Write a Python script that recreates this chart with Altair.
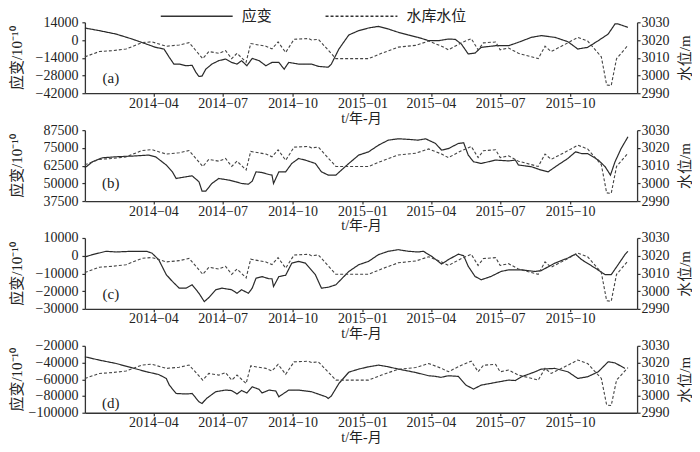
import altair as alt
import pandas as pd

START_DATE = "2014-01-01"
SERIES = ["应变", "水库水位"]
PANEL_LABELS = ["(a)", "(b)", "(c)", "(d)"]
X_TICK_MONTHS = ["2014-04-01", "2014-07-01", "2014-10-01", "2015-01-01",
                 "2015-04-01", "2015-07-01", "2015-10-01"]

# reservoir water level (m), days since START_DATE
WATER_DAYS = [0, 19, 36, 54, 75, 88, 107, 124, 137, 155, 163, 176, 185, 193, 200, 212, 218,
              238, 246, 254, 264, 275, 294, 298, 307, 330, 343, 373, 390, 412, 435, 452, 469,
              478, 495, 508, 517, 524, 540, 546, 557, 570, 596, 605, 613, 635, 648, 661, 679,
              686, 692, 699, 714]
WATER_LEVEL = [3010.5, 3013.5, 3014.0, 3014.9, 3018.5, 3019.0, 3016.5, 3017.2, 3018.5, 3009.5,
               3013.5, 3012.5, 3014.0, 3009.5, 3012.5, 3007.5, 3018.0, 3016.5, 3015.0, 3018.9,
               3013.0, 3020.4, 3020.8, 3020.0, 3020.4, 3009.5, 3009.5, 3009.5, 3012.5, 3016.0,
               3017.0, 3019.4, 3016.5, 3014.5, 3018.4, 3020.8, 3014.5, 3018.4, 3018.9, 3014.5,
               3015.5, 3012.5, 3009.5, 3016.5, 3013.5, 3018.4, 3021.5, 3019.4, 3010.5, 2994.6,
               2994.3, 3009.5, 3017.0]

# strain (1e-10)
STRAIN_A_DAYS = [0, 19, 41, 62, 81, 93, 104, 111, 117, 124, 133, 141, 146, 150, 154, 159, 167,
                 176, 185, 193, 200, 206, 213, 220, 229, 238, 246, 255, 262, 268, 281, 298, 307,
                 320, 324, 334, 347, 360, 373, 386, 399, 412, 425, 438, 452, 465, 478, 487, 495,
                 504, 513, 521, 540, 557, 570, 587, 600, 618, 635, 648, 661, 675, 688, 697, 701,
                 714]
STRAIN_A = [9500, 7400, 4700, 800, -3200, -5800, -7100, -13700, -19000, -19000, -20300, -20000,
            -25600, -28800, -28500, -23000, -19000, -16300, -15000, -17700, -19000, -16300,
            -20300, -14500, -16300, -20300, -17700, -17700, -23000, -17700, -19000, -19000,
            -20800, -21500, -19000, -7100, 4000, 7400, 9500, 10800, 8700, 6100, 4000, 2100, -500,
            -500, 800, 500, -3200, -11000, -10300, -5800, -4500, -4500, -1800, 2100, 3500, 2100,
            -1300, -7100, -5800, -500, 4700, 12700, 12700, 10000]

STRAIN_B_DAYS = [0, 10, 23, 41, 62, 84, 93, 107, 115, 120, 133, 141, 150, 154, 159, 167, 176,
                 189, 198, 206, 215, 220, 225, 233, 242, 246, 248, 255, 264, 272, 281, 290, 303,
                 311, 320, 330, 347, 360, 373, 386, 399, 412, 425, 438, 448, 461, 469, 478, 491,
                 498, 504, 511, 521, 540, 557, 566, 570, 587, 600, 609, 622, 635, 645, 653, 661,
                 675, 684, 691, 697, 705, 714]
STRAIN_B = [60960, 65200, 68000, 68700, 69200, 69900, 68700, 62900, 58100, 53400, 54600, 55300,
            51100, 44550, 44550, 49900, 53400, 52300, 51100, 49900, 49400, 51500, 58100, 57600,
            56200, 55800, 49900, 58100, 58100, 64000, 67500, 66300, 64000, 58100, 55800, 55800,
            64000, 69900, 72200, 76900, 80460, 81400, 81000, 80460, 81400, 78100, 73400, 74500,
            78100, 78600, 69900, 65200, 64000, 66400, 65800, 66400, 62900, 61700, 59300, 58100,
            62900, 67500, 72200, 71000, 71000, 66400, 61700, 55800, 65200, 74500, 82800]

STRAIN_C_DAYS = [0, 10, 28, 41, 62, 81, 88, 97, 107, 115, 124, 133, 141, 150, 157, 163, 172,
                 180, 193, 200, 206, 215, 220, 225, 233, 242, 246, 248, 255, 264, 272, 281, 290,
                 303, 311, 320, 330, 347, 360, 373, 386, 399, 412, 425, 438, 445, 456, 469, 478,
                 491, 498, 504, 513, 521, 534, 547, 557, 574, 592, 600, 618, 635, 645, 653, 671,
                 684, 692, 701, 710, 714]
STRAIN_C = [-700, 600, 2500, 2100, 2500, 2500, 1500, -2200, -10700, -14500, -18300, -18300,
            -16400, -21200, -25900, -23600, -19200, -18300, -19200, -21200, -19200, -21200,
            -18300, -12700, -11800, -13000, -13000, -17400, -11800, -11000, -4200, -3200, -4200,
            -10700, -18300, -17800, -16400, -8900, -5100, -3200, 600, 2500, 3400, 2500, 2100,
            2500, -370, -4700, -2200, 900, 0, -6000, -11700, -13600, -11700, -8900, -8000, -8000,
            -8900, -8400, -4200, -1300, 900, -2200, -7000, -10700, -10700, -5100, 600, 2500]

STRAIN_D_DAYS = [0, 19, 41, 62, 81, 97, 107, 111, 120, 133, 141, 150, 154, 160, 172, 185, 193,
                 200, 206, 213, 220, 229, 233, 242, 251, 255, 268, 281, 298, 317, 320, 324, 334,
                 347, 360, 373, 386, 399, 412, 435, 452, 461, 468, 478, 491, 501, 511, 521, 540,
                 557, 566, 574, 592, 600, 618, 635, 648, 661, 675, 688, 697, 710]
STRAIN_D = [-33100, -37100, -41100, -46300, -51000, -54300, -59000, -67000, -77000, -77600,
            -77000, -86900, -88900, -82900, -74900, -72900, -73500, -77600, -73500, -76400,
            -69000, -72000, -76400, -72900, -74000, -80900, -72900, -72900, -74900, -80900,
            -82900, -80000, -65000, -51500, -47800, -45100, -43100, -45100, -47800, -51900,
            -55800, -56500, -57700, -55800, -56500, -67000, -71700, -67000, -63800, -61000,
            -61500, -57000, -51000, -47800, -47000, -51000, -59000, -57000, -51000, -39100,
            -40400, -47000]

STRAIN_DOMAINS = [[-42000, 14000], [37500, 87500], [-30000, 10000], [-100000, -20000]]
STRAIN_TICKS = [[-42000, -28000, -14000, 0, 14000],
                [37500, 50000, 62500, 75000, 87500],
                [-30000, -20000, -10000, 0, 10000],
                [-100000, -80000, -60000, -40000, -20000]]
WATER_DOMAIN = [2990, 3030]
WATER_TICKS = [2990, 3000, 3010, 3020, 3030]

FONT = "Liberation Serif, 'Noto Sans CJK SC', serif"
INK = "#222222"
W = 553
HEIGHTS = [71, 71, 71, 67]
LABEL_Y = [56, 53, 56, 57]

start = pd.Timestamp(START_DATE)


def to_dates(days):
    return [(start + pd.Timedelta(days=int(d))).strftime("%Y-%m-%dT00:00:00") for d in days]


def dt(s):
    t = pd.Timestamp(s)
    return alt.DateTime(year=t.year, month=t.month, date=t.day)


water_df = pd.DataFrame({"date": to_dates(WATER_DAYS), "value": WATER_LEVEL, "series": SERIES[1]})

x_enc = alt.X(
    "date:T",
    scale=alt.Scale(domain=[dt("2014-01-01"), dt("2015-12-28")]),
    axis=alt.Axis(values=[dt(s) for s in X_TICK_MONTHS], format="%Y\u2212%m",
                  title="t/年-月", titleFont=FONT, titleFontSize=14, titleFontWeight="normal",
                  titlePadding=1, labelPadding=0),
)

dash_enc = alt.StrokeDash(
    "series:N",
    scale=alt.Scale(domain=SERIES, range=[[1, 0], [3, 2]]),
    legend=alt.Legend(orient="none", direction="horizontal", legendX=75, legendY=-43,
                      title=None, symbolType="stroke", symbolSize=5184,
                      symbolStrokeWidth=1.4, symbolStrokeColor="#333333",
                      labelFont=FONT, labelFontSize=15, labelColor=INK, labelOffset=8,
                      columnPadding=50),
)

panels = []
strain_sets = [(STRAIN_A_DAYS, STRAIN_A), (STRAIN_B_DAYS, STRAIN_B),
               (STRAIN_C_DAYS, STRAIN_C), (STRAIN_D_DAYS, STRAIN_D)]
for i, (days, vals) in enumerate(strain_sets):
    H = HEIGHTS[i]
    sdf = pd.DataFrame({"date": to_dates(days), "value": vals, "series": SERIES[0]})
    strain = alt.Chart(sdf).mark_line(color="#2a2a2a", strokeWidth=1.2).encode(
        x=x_enc,
        y=alt.Y("value:Q",
                scale=alt.Scale(domain=STRAIN_DOMAINS[i], nice=False, zero=False),
                axis=alt.Axis(orient="left", values=STRAIN_TICKS[i], format="d",
                              title="应变/10⁻¹⁰", titleFont=FONT, titleFontSize=15,
                              titleFontWeight="normal", titleAngle=270,
                              titleX=-68, titleY=H / 2, titleBaseline="middle",
                              titleAlign="center", labelPadding=4)),
        strokeDash=dash_enc,
    )
    water = alt.Chart(water_df).mark_line(color="#444444", strokeWidth=1.1).encode(
        x=x_enc,
        y=alt.Y("value:Q",
                scale=alt.Scale(domain=WATER_DOMAIN, nice=False, zero=False),
                axis=alt.Axis(orient="right", values=WATER_TICKS, format="d",
                              title="水位/m", titleFont=FONT, titleFontSize=15,
                              titleFontWeight="normal", titleAngle=270,
                              titleX=47, titleY=H / 2, titleBaseline="middle",
                              titleAlign="center", labelPadding=1)),
        strokeDash=dash_enc,
    )
    label = alt.Chart(pd.DataFrame({"t": [PANEL_LABELS[i]]})).mark_text(
        font=FONT, fontSize=15, color=INK
    ).encode(text="t:N", x=alt.value(26), y=alt.value(LABEL_Y[i]))
    panel = alt.layer(strain, water, label).resolve_scale(y="independent").properties(
        width=W, height=H
    )
    panels.append(panel)

chart = alt.vconcat(*panels, spacing=37, bounds="flush").properties(
    padding={"left": 2, "top": -29, "right": 0, "bottom": 0}
).configure_view(stroke=None).configure_axis(
    grid=False,
    domainColor="#333333", domainWidth=1.3,
    tickColor="#333333", tickSize=3, tickWidth=1.2,
    labelFont=FONT, labelFontSize=14, labelColor=INK,
    titleColor=INK,
)

chart.save("out.html", embed_options={"renderer": "svg", "actions": False})
